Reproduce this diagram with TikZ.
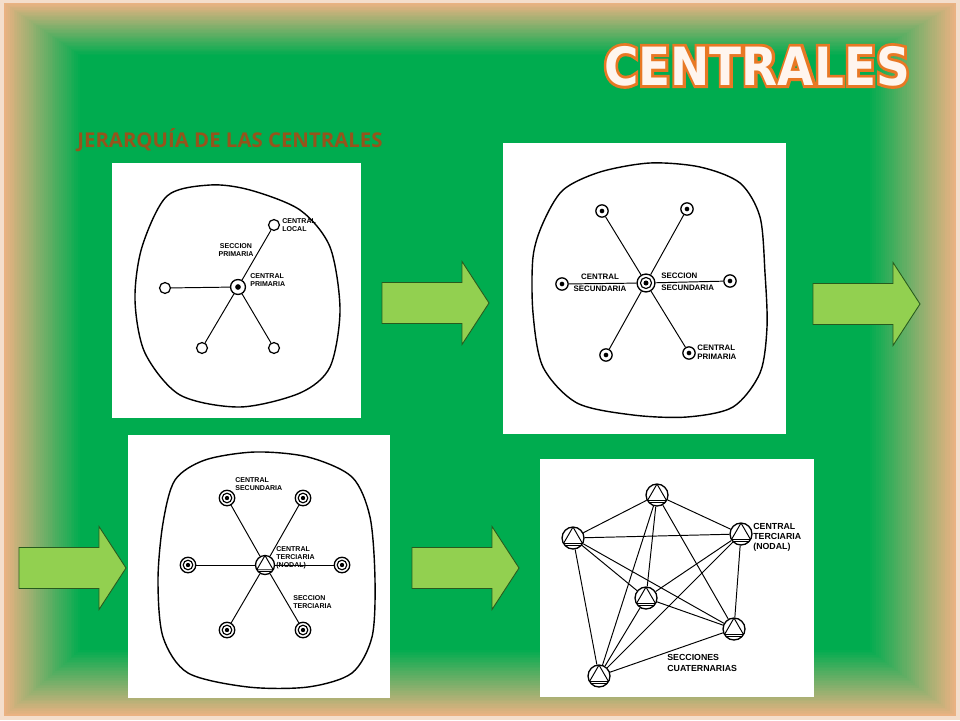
\documentclass[tikz,border=0pt]{standalone}
\usepackage{fontspec}
\setsansfont{Liberation Sans}
\newfontfamily\titulofont{DejaVu Sans}
\newfontfamily\titulogrueso{DejaVu Sans}[BoldFeatures={FakeBold=11}]
\newfontfamily\subfont{Open Sans}
\definecolor{verde}{RGB}{0,172,79}
\definecolor{durazno}{RGB}{234,178,130}
\definecolor{claro}{RGB}{244,222,204}
\definecolor{flechaverde}{RGB}{146,208,80}
\definecolor{flechaborde}{RGB}{40,90,30}
\definecolor{marron}{RGB}{150,84,28}
\definecolor{naranja}{RGB}{232,120,36}
\definecolor{blanco}{RGB}{255,245,238}
\newcommand{\flecha}[2]{%
  \draw[flecha] (#1,#2) ++(0,-20.5) -- ++(80,0) -- ++(0,-21) -- ++(27,41.5)
    -- ++(-27,41.5) -- ++(0,-21) -- ++(-80,0) -- cycle;}

\begin{document}
\begin{tikzpicture}[x=0.02cm,y=-0.02cm,
  linea/.style={line width=0.55pt},
  contorno/.style={line width=0.8pt},
  local/.style={circle,draw,line width=0.7pt,fill=white,inner sep=0pt,minimum size=6.2pt},
  primaria/.style={circle,draw,line width=0.75pt,fill=white,inner sep=0pt,minimum size=#1,
    path picture={\fill[black] (path picture bounding box.center) circle ({0.19*#1});}},
  secundaria/.style={circle,draw,line width=0.75pt,fill=white,inner sep=0pt,minimum size=#1,
    path picture={\draw[black,line width=0.65pt] (path picture bounding box.center) circle ({0.31*#1});
      \fill[black] (path picture bounding box.center) circle ({0.14*#1});}},
  terciaria/.style={circle,draw,line width=0.75pt,fill=white,inner sep=0pt,minimum size=#1,
    path picture={\begin{scope}[shift={(path picture bounding box.center)}]
      \draw[black,line width=0.55pt] (90:{0.5*#1}) -- (210:{0.5*#1}) -- (330:{0.5*#1}) -- cycle;
      \draw[black,line width=0.55pt] ({-0.37*#1},{-0.34*#1}) -- ({0.37*#1},{-0.34*#1});
      \end{scope}}},
  etiq/.style={inner sep=0pt,align=left,font=\sffamily\bfseries\fontsize{#1}{#1}\linespread{1.15}\selectfont},
  etiq/.default=4,
  flecha/.style={fill=flechaverde,draw=flechaborde,line width=0.5pt,line join=miter},
  titulo/.style={font=\titulofont\bfseries\fontsize{30}{30}\selectfont,xscale=0.89,transform shape,inner sep=0pt}]

  \useasboundingbox (0,0) rectangle (960,720);

  % fondo
  \fill[claro] (0,0) rectangle (960,720);
  \foreach \i in {0,...,40}{
    \pgfmathtruncatemacro\p{100-2.5*\i}
    \fill[durazno!\p!verde] ({4+\i*76/40},{3+\i*52/40}) rectangle ({956-\i*86/40},{716-\i*66/40});
  }

  \node[titulo,text=naranja,font=\titulogrueso\bfseries\fontsize{30}{30}\selectfont] (borde) at (757,66) {CENTRALES};
  \node[titulo,text=blanco] (titulo) at (757,66) {CENTRALES};
  \node[anchor=base west,inner sep=0pt,text=marron,font=\subfont\bfseries\fontsize{11.6}{13}\selectfont]
    (subtitulo) at (77,147) {JERARQUÍA DE LAS CENTRALES};

  % hojas
  \fill[white] (112,163) rectangle (361,418);
  \fill[white] (503,143) rectangle (786,434);
  \fill[white] (128,435) rectangle (390,698);
  \fill[white] (540,459) rectangle (814,697);

  % flechas
  \flecha{382}{303}
  \flecha{813}{304}
  \flecha{19}{568}
  \flecha{412}{568}

  % seccion primaria
  \draw[contorno] plot[smooth cycle] coordinates {(167,196) (142,247) (135,300) (145,353) (180,395)
    (240,407) (300,393) (330,367) (340,310) (330,247) (300,210) (250,190) (210,185)};
  \node[primaria=8.5pt] (p1) at (238,287) {};
  \node[local] (l1) at (274,225) {};
  \node[local] (l2) at (165,288) {};
  \node[local] (l3) at (202,348) {};
  \node[local] (l4) at (274,348) {};
  \path[linea] (p1) edge (l1) edge (l2) edge (l3) edge (l4);
  \node[etiq,anchor=west] (t1) at (282,225) {CENTRAL\\LOCAL};
  \node[etiq,align=center] (t2) at (236,250) {SECCION\\PRIMARIA};
  \node[etiq,anchor=west] (t3) at (250,280) {CENTRAL\\PRIMARIA};

  % seccion secundaria
  \draw[contorno] plot[smooth cycle] coordinates {(563,190) (600,172) (650,163) (700,167) (740,183)
    (760,217) (765,273) (767,327) (760,373) (733,407) (687,417) (633,415) (577,403) (543,367)
    (533,313) (533,257) (543,223)};
  \node[secundaria=10.2pt] (s1) at (646,283) {};
  \node[primaria=7pt] (q1) at (602,211) {};
  \node[primaria=7pt] (q2) at (687,209) {};
  \node[primaria=7pt] (q3) at (562,284) {};
  \node[primaria=7pt] (q4) at (730,281) {};
  \node[primaria=7pt] (q5) at (606,355) {};
  \node[primaria=7pt] (q6) at (689,353) {};
  \path[linea] (s1) edge (q1) edge (q2) edge (q3) edge (q4) edge (q5) edge (q6);
  \node[etiq=4.5,align=center] (t4) at (600,283) {CENTRAL\\[1.5pt]SECUNDARIA};
  \node[etiq=4.5,anchor=west] (t5) at (661,282) {SECCION\\[1.5pt]SECUNDARIA};
  \node[etiq=4.5,anchor=west] (t6) at (697,352) {CENTRAL\\PRIMARIA};

  % seccion terciaria
  \draw[contorno] plot[smooth cycle] coordinates {(255,452) (205,460) (175,480) (163,523) (158,580)
    (163,637) (188,673) (248,687) (308,687) (352,673) (372,637) (375,580) (370,517) (352,477)
    (308,457)};
  \node[terciaria=10.8pt] (r1) at (265,565) {};
  \node[secundaria=8.8pt] (u1) at (227,498) {};
  \node[secundaria=8.8pt] (u2) at (303,498) {};
  \node[secundaria=8.8pt] (u3) at (188,565) {};
  \node[secundaria=8.8pt] (u4) at (342,565) {};
  \node[secundaria=8.8pt] (u5) at (227,630) {};
  \node[secundaria=8.8pt] (u6) at (303,630) {};
  \path[linea] (r1) edge (u1) edge (u2) edge (u3) edge (u4) edge (u5) edge (u6);
  \node[etiq,anchor=west] (t7) at (235,484) {CENTRAL\\SECUNDARIA};
  \node[etiq,anchor=west] (t8) at (276,558) {CENTRAL\\TERCIARIA\\(NODAL)};
  \node[etiq,anchor=west] (t9) at (293,602) {SECCION\\TERCIARIA};

  % secciones cuaternarias
  \node[terciaria=12.5pt] (v1) at (657,495) {};
  \node[terciaria=12.5pt] (v2) at (573,538) {};
  \node[terciaria=12.5pt] (v3) at (741,534) {};
  \node[terciaria=12.5pt] (v4) at (646,598) {};
  \node[terciaria=12.5pt] (v5) at (734,629) {};
  \node[terciaria=12.5pt] (v6) at (599,676) {};
  \path[linea]
    (v1) edge (v2) edge (v3) edge (v4) edge (v5) edge (v6)
    (v2) edge (v3) edge (v4) edge (v5) edge (v6)
    (v3) edge (v4) edge (v5) edge (v6)
    (v4) edge (v5) edge (v6)
    (v5) edge (v6);
  \node[etiq=5,anchor=west] (t10) at (753,537) {CENTRAL\\TERCIARIA\\(NODAL)};
  \node[etiq=5,anchor=west] (t11) at (667,663) {SECCIONES\\CUATERNARIAS};

\end{tikzpicture}
\end{document}
